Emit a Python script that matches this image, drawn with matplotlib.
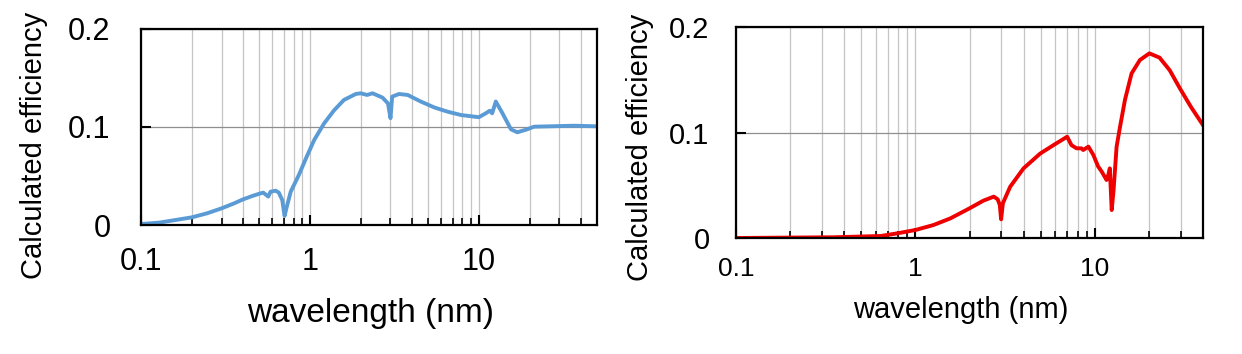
import matplotlib
matplotlib.use('Agg')
import matplotlib.pyplot as plt
from matplotlib.ticker import LogLocator, NullFormatter, FixedLocator, FixedFormatter

plt.rcParams['font.family'] = ['Liberation Sans', 'DejaVu Sans']

# левая панель: эффективность (синяя кривая)
wl_left = [0.1, 0.128, 0.16, 0.2, 0.247, 0.3, 0.355, 0.4, 0.456, 0.51, 0.53,
           0.567, 0.585, 0.627, 0.655, 0.686, 0.708, 0.73, 0.77, 0.86, 0.948,
           1.06, 1.215, 1.39, 1.59, 1.87, 2.0, 2.18, 2.35, 2.69, 2.9, 3.0, 3.07,
           3.37, 3.79, 4.53, 5.44, 6.54, 7.85, 10.0, 11.0, 11.6, 12.0, 12.6,
           13.8, 15.5, 16.9, 19.3, 21.2, 36.6, 50.0]
eff_left = [0.001, 0.0024, 0.0051, 0.0078, 0.012, 0.017, 0.022, 0.026, 0.0296,
            0.0323, 0.033, 0.029, 0.034, 0.035, 0.033, 0.0255, 0.0092, 0.0187,
            0.034, 0.051, 0.068, 0.0867, 0.1038, 0.117, 0.1276, 0.1337, 0.1344,
            0.1327, 0.1344, 0.130, 0.124, 0.109, 0.131, 0.1337, 0.1327, 0.126,
            0.120, 0.1156, 0.1122, 0.110, 0.114, 0.1166, 0.114, 0.126, 0.114,
            0.0976, 0.0946, 0.0976, 0.1003, 0.1013, 0.1007]

# правая панель: эффективность (красная кривая)
wl_right = [0.1, 0.352, 0.64, 0.792, 1.0, 1.26, 1.565, 2.0, 2.39, 2.73, 2.87,
            2.95, 3.0, 3.07, 3.37, 4.0, 4.95, 5.87, 7.0, 7.4, 7.9, 8.4, 8.6,
            9.2, 9.8, 10.4, 10.9, 11.6, 11.8, 12.1, 12.4, 12.7, 13.2, 13.8,
            14.7, 16.0, 17.8, 20.1, 22.9, 26.1, 29.7, 34.2, 40.0]
eff_right = [0.0, 0.0007, 0.0019, 0.0044, 0.0076, 0.0123, 0.0186, 0.0281,
             0.0354, 0.0392, 0.0367, 0.0313, 0.0177, 0.033, 0.0486, 0.066,
             0.080, 0.088, 0.096, 0.088, 0.085, 0.085, 0.0834, 0.0866, 0.0787,
             0.0680, 0.063, 0.055, 0.058, 0.066, 0.0265, 0.0455, 0.0865, 0.1055,
             0.131, 0.156, 0.1687, 0.175, 0.171, 0.159, 0.142, 0.1245, 0.107]

y_ticks = [0, 0.1, 0.2]
y_labels = ['0', '0.1', '0.2']
x_ticks = [0.1, 1, 10]
x_labels = ['0.1', '1', '10']


def setup_axis(ax, xmax, fs_x, fs_y, pad_x, pad_y):
    ax.set_xscale('log')
    ax.set_xlim(0.1, xmax)
    ax.set_ylim(0, 0.2)
    ax.xaxis.set_major_locator(FixedLocator(x_ticks))
    ax.xaxis.set_major_formatter(FixedFormatter(x_labels))
    ax.xaxis.set_minor_locator(LogLocator(base=10, subs=range(2, 10)))
    ax.xaxis.set_minor_formatter(NullFormatter())
    ax.yaxis.set_major_locator(FixedLocator(y_ticks))
    ax.yaxis.set_major_formatter(FixedFormatter(y_labels))
    ax.grid(True, which='both', axis='x', color='#c4c4c4', lw=0.9)
    ax.grid(True, which='major', axis='y', color='#8f8f8f', lw=0.9)
    ax.tick_params(axis='x', which='major', direction='in', length=7, width=1.5,
                   labelsize=fs_x, pad=pad_x)
    ax.tick_params(axis='x', which='minor', direction='in', length=5, width=1.2)
    ax.tick_params(axis='y', which='major', direction='in', length=7, width=1.5,
                   labelsize=fs_y, pad=pad_y)
    for s in ax.spines.values():
        s.set_linewidth(1.6)
        s.set_color('black')
    ax.set_axisbelow(True)


fig = plt.figure(figsize=(12.42, 3.54), dpi=100)

ax1 = fig.add_axes([0.1135, 0.3644, 0.3671, 0.5537])
ax1.plot(wl_left, eff_left, color='#5b9bd5', lw=2.8, solid_joinstyle='round')
setup_axis(ax1, 50, 22, 22, 16, 22)
ax1.set_xlabel('wavelength (nm)', fontsize=24, va='center')
ax1.xaxis.set_label_coords(0.503, -0.454)
ax1.set_ylabel('Calculated efficiency', fontsize=21, va='center')
ax1.yaxis.set_label_coords(-0.235, 0.406)

ax2 = fig.add_axes([0.5926, 0.3277, 0.376, 0.596])
ax2.plot(wl_right, eff_right, color='#ee0000', lw=2.8, solid_joinstyle='round')
setup_axis(ax2, 40, 19, 21, 14, 19)
ax2.set_xlabel('wavelength (nm)', fontsize=21, va='center')
ax2.xaxis.set_label_coords(0.481, -0.341)
ax2.set_ylabel('Calculated efficiency', fontsize=21, va='center')
ax2.yaxis.set_label_coords(-0.2056, 0.431)

fig.savefig('out.png', dpi=100)
